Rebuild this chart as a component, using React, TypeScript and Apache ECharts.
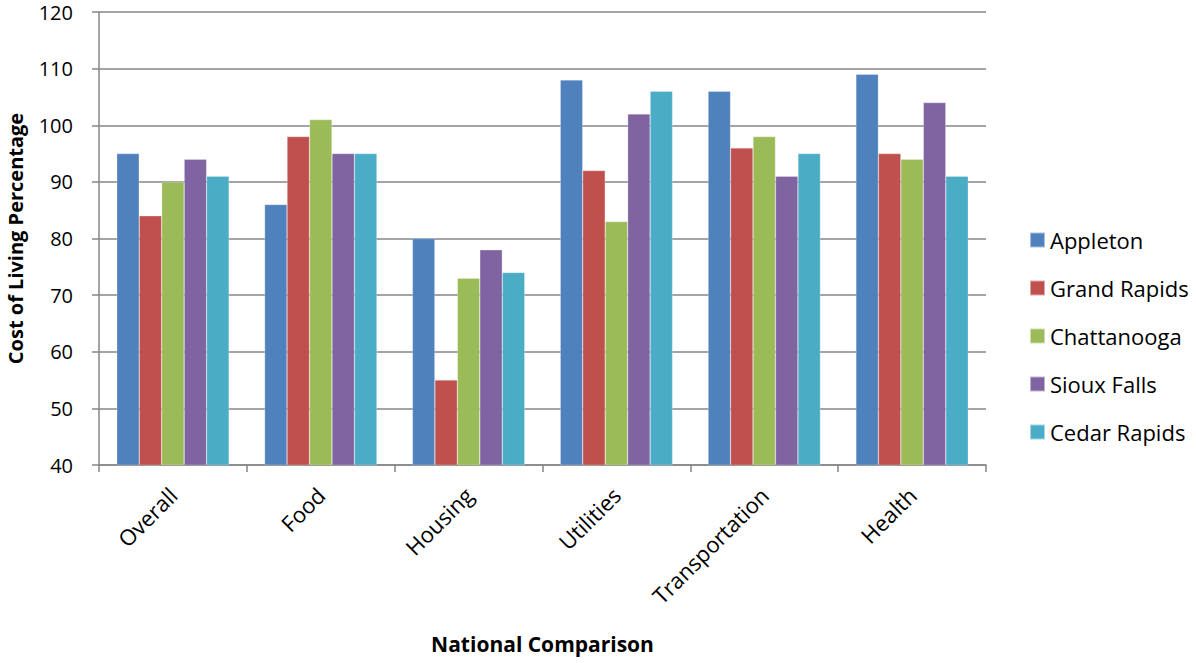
import React, { useEffect, useRef } from "react";
import * as echarts from "echarts";

const categories = ["Overall", "Food", "Housing", "Utilities", "Transportation", "Health"];
const appleton = [95, 86, 80, 108, 106, 109];
const grandRapids = [84, 98, 55, 92, 96, 95];
const chattanooga = [90, 101, 73, 83, 98, 94];
const siouxFalls = [94, 95, 78, 102, 91, 104];
const cedarRapids = [91, 95, 74, 106, 95, 91];

const seriesDefs = [
  { name: "Appleton", data: appleton, color: "#4F81BD" },
  { name: "Grand Rapids", data: grandRapids, color: "#C0504D" },
  { name: "Chattanooga", data: chattanooga, color: "#9BBB59" },
  { name: "Sioux Falls", data: siouxFalls, color: "#8064A2" },
  { name: "Cedar Rapids", data: cedarRapids, color: "#4BACC6" },
];

const FONT = "'Open Sans', 'Noto Sans', sans-serif";

export default function App() {
  const ref = useRef<HTMLDivElement>(null);
  useEffect(() => {
    if (!ref.current) return;
    const chart = echarts.init(ref.current, null, { renderer: "svg" });
    chart.setOption({
      animation: false,
      backgroundColor: "#ffffff",
      textStyle: { fontFamily: FONT },
      grid: {
        left: 99,
        right: 210,
        top: 12,
        bottom: 198,
        containLabel: false,
        outerBoundsMode: "none",
      },
      legend: {
        orient: "vertical",
        left: 1024,
        top: 224,
        itemWidth: 15,
        itemHeight: 15,
        itemGap: 26,
        icon: "rect",
        textStyle: { fontSize: 22, color: "#000", fontFamily: FONT },
        data: seriesDefs.map((s) => s.name),
      },
      xAxis: {
        type: "category",
        data: categories,
        name: "National Comparison",
        nameLocation: "middle",
        nameGap: 168,
        nameTextStyle: { fontSize: 21, fontWeight: "bold", color: "#000", fontFamily: FONT },
        axisLine: { lineStyle: { color: "#868686", width: 1.5 } },
        axisTick: { show: true, length: 7, alignWithLabel: false, lineStyle: { color: "#868686", width: 1.5 } },
        axisLabel: { rotate: 45, fontSize: 22, color: "#000", margin: 26, fontFamily: FONT },
      },
      yAxis: {
        type: "value",
        min: 40,
        max: 120,
        interval: 10,
        name: "Cost of Living Percentage",
        nameLocation: "middle",
        nameGap: 74,
        nameRotate: 90,
        nameTextStyle: { fontSize: 20, fontWeight: "bold", color: "#000", fontFamily: FONT },
        axisLine: { show: true, lineStyle: { color: "#868686", width: 1.5 } },
        axisTick: { show: true, length: 7, lineStyle: { color: "#868686", width: 1.5 } },
        axisLabel: {
          fontSize: 20,
          lineHeight: 16,
          color: "#000",
          margin: 26,
          fontFamily: FONT,
          verticalAlign: "middle",
        },
        splitLine: { show: true, lineStyle: { color: "#868686", width: 1.5 } },
      },
      series: seriesDefs.map((s) => ({
        name: s.name,
        type: "bar",
        data: s.data,
        barGap: "0%",
        barCategoryGap: "24%",
        itemStyle: { color: s.color, borderColor: "rgba(255,255,255,0.5)", borderWidth: 0.5 },
      })),
    });
    return () => chart.dispose();
  }, []);
  return (
    <div
      ref={ref}
      style={{ position: "fixed", left: 0, top: 0, width: 1196, height: 663 }}
    />
  );
}
